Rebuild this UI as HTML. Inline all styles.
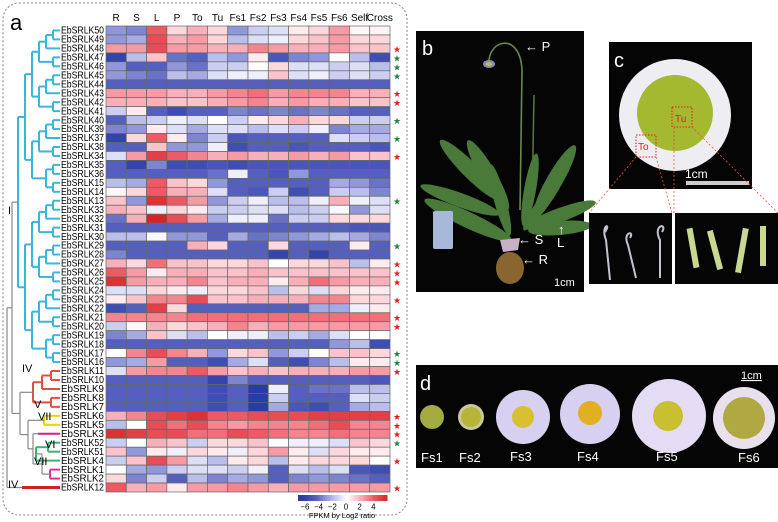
<!DOCTYPE html>
<html><head><meta charset="utf-8"><style>
html,body{margin:0;padding:0;background:#fff;}
svg{display:block;font-family:"Liberation Sans",Arial,sans-serif;}
</style></head><body>
<svg id="fig" width="778" height="522" viewBox="0 0 778 522" xmlns="http://www.w3.org/2000/svg">
<rect x="3" y="3" width="404" height="512" rx="16" fill="none" stroke="#888" stroke-dasharray="2,2"/>
<text x="10" y="30" font-size="22">a</text>
<g id="heat"></g>
<g id="tree"></g>
<g id="legend"></g>

<!-- panel b -->
<g>
<rect x="416" y="31" width="168" height="261" fill="#050505"/>
<text x="422" y="55" font-size="20" fill="#fff">b</text>
<path d="M489,66 C486,40 520,30 522,70 L520,210" stroke="#6a8a4a" stroke-width="1.6" fill="none"/>
<ellipse cx="489" cy="64" rx="6" ry="4" fill="#8a8ab8"/>
<ellipse cx="489" cy="64" rx="3" ry="2" fill="#b8c050"/>
<path d="M534,95 L532,205" stroke="#5a7a40" stroke-width="1.5"/>
<g fill="#4a7a3a">
<ellipse cx="470" cy="170" rx="42" ry="8" transform="rotate(45 470 170)"/>
<ellipse cx="488" cy="175" rx="40" ry="8" transform="rotate(60 488 175)"/>
<ellipse cx="555" cy="180" rx="40" ry="8" transform="rotate(-60 555 180)"/>
<ellipse cx="560" cy="215" rx="38" ry="7" transform="rotate(-20 560 215)"/>
<ellipse cx="560" cy="228" rx="32" ry="7" transform="rotate(-5 560 228)"/>
<ellipse cx="468" cy="220" rx="48" ry="8" transform="rotate(25 468 220)"/>
<ellipse cx="460" cy="200" rx="42" ry="7" transform="rotate(20 460 200)"/>
<ellipse cx="500" cy="200" rx="37" ry="6" transform="rotate(75 500 200)"/>
<ellipse cx="530" cy="190" rx="37" ry="6" transform="rotate(-80 530 190)"/>
<ellipse cx="545" cy="200" rx="37" ry="6" transform="rotate(-55 545 200)"/>
</g>
<path d="M500,240 L520,238 L518,250 L503,252Z" fill="#c8b0c8"/>
<ellipse cx="510" cy="268" rx="14" ry="16" fill="#8a6530"/>
<rect x="433" y="211" width="20" height="38" rx="2" fill="#a8b8d8"/>
<g fill="#fff" font-size="13">
<text x="525" y="51">← P</text><text x="518" y="244">← S</text><text x="522" y="264">← R</text>
<text x="558" y="234">↑</text><text x="557" y="247">L</text>
<text x="554" y="286" font-size="11">1cm</text></g>
</g>

<!-- panel c -->
<g>
<rect x="609" y="42" width="143" height="147" fill="#050505"/>
<circle cx="675" cy="115" r="56" fill="#eeeef2"/>
<circle cx="675" cy="113" r="38" fill="#a4b830"/>
<text x="614" y="67" font-size="20" fill="#fff">c</text>
<rect x="672" y="107" width="20" height="20" fill="none" stroke="#e02020" stroke-dasharray="1.5,1.5"/>
<text x="675" y="122" font-size="10" fill="#e02020">Tu</text>
<rect x="636" y="135" width="20" height="22" fill="none" stroke="#e02020" stroke-dasharray="1.5,1.5"/>
<text x="638" y="150" font-size="10" fill="#e02020">To</text>
<text x="685" y="178" font-size="12" fill="#fff">1cm</text>
<rect x="686" y="181" width="63" height="4" fill="#ccc"/>
<g stroke="#e05a30" stroke-dasharray="2,2" stroke-width="0.8">
<line x1="636" y1="157" x2="589" y2="213"/><line x1="656" y1="157" x2="672" y2="213"/>
<line x1="674" y1="127" x2="674" y2="213"/><line x1="692" y1="127" x2="778" y2="213"/></g>
<rect x="589" y="213" width="83" height="71" fill="#050505"/>
<rect x="675" y="213" width="103" height="71" fill="#050505"/>
<g stroke="#c0c4d0" stroke-width="2" fill="none">
<path d="M610,280 L606,240 C600,225 612,222 605,232"/><path d="M636,278 L628,245 C622,232 635,230 630,238"/><path d="M660,278 L660,240 C652,225 668,222 662,232"/></g>
<g fill="#c8d890"><rect x="690" y="228" width="6" height="40" transform="rotate(-10 693 248)"/><rect x="712" y="230" width="6" height="40" transform="rotate(-15 715 250)"/><rect x="739" y="228" width="6" height="45" transform="rotate(10 742 250)"/><rect x="760" y="226" width="6" height="40"/></g>
</g>

<!-- panel d -->
<g>
<rect x="416" y="365" width="362" height="103" fill="#050505"/>
<text x="420" y="390" font-size="20" fill="#fff">d</text>
<text x="741" y="379" font-size="11" fill="#fff" text-decoration="underline">1cm</text>
<circle cx="432" cy="417" r="12" fill="#a4ac40"/>
<circle cx="471" cy="417" r="13" fill="#c8c8a0"/><circle cx="471" cy="417" r="10" fill="#b8b438"/>
<circle cx="523" cy="417" r="27" fill="#d8d0f0"/><circle cx="523" cy="417" r="11" fill="#d8c030"/>
<circle cx="590" cy="414" r="30" fill="#d8d0f0"/><circle cx="590" cy="413" r="12" fill="#e0b020"/>
<circle cx="669" cy="416" r="37" fill="#e4dcf4"/><circle cx="668" cy="416" r="15" fill="#c8c030"/>
<circle cx="744" cy="418" r="31" fill="#e8e0ec"/><circle cx="744" cy="418" r="21" fill="#b0a840"/>
<g fill="#fff" font-size="13"><text x="421" y="462">Fs1</text><text x="459" y="462">Fs2</text><text x="510" y="461">Fs3</text><text x="577" y="461">Fs4</text><text x="656" y="461">Fs5</text><text x="738" y="462">Fs6</text></g>
</g>
</svg>
<script>
const columns=["R","S","L","P","To","Tu","Fs1","Fs2","Fs3","Fs4","Fs5","Fs6","Self","Cross"];
const genes=["EbSRLK50","EbSRLK49","EbSRLK48","EbSRLK47","EbSRLK46","EbSRLK45","EbSRLK44","EbSRLK43","EbSRLK42","EbSRLK41","EbSRLK40","EbSRLK39","EbSRLK37","EbSRLK38","EbSRLK34","EbSRLK35","EbSRLK36","EbSRLK15","EbSRLK14","EbSRLK13","EbSRLK33","EbSRLK32","EbSRLK31","EbSRLK30","EbSRLK29","EbSRLK28","EbSRLK27","EbSRLK26","EbSRLK25","EbSRLK24","EbSRLK23","EbSRLK22","EbSRLK21","EbSRLK20","EbSRLK19","EbSRLK18","EbSRLK17","EbSRLK16","EbSRLK11","EbSRLK10","EbSRLK9","EbSRLK8","EbSRLK7","EbSRLK6","EbSRLK5","EbSRLK3","EbSRLK52","EbSRLK51","EbSRLK4","EbSRLK1","EbSRLK2","EbSRLK12"];
const values=[
[-3,-3.5,4,1,2,1,-3,-1.5,-1,0.5,1,2.5,0.2,0.3],
[-3,-2.5,4.5,2,2.5,1,-2,-1,-0.5,1,1.5,2.5,1,1],
[2.5,2.5,4.5,2.5,2.5,2,2,3,2.5,2,2,2.5,1.5,1.5],
[-6,-2,1.5,-4,-4.5,-2,-3,0.5,-5,-3.5,-3,0,-2,-5.5],
[-3,-4.5,-4.5,-3,-4,-1.5,-1.5,0,1,-1,-1,-1.5,-1,-2],
[-3,-3.5,-4,-2,-2.5,-1,-0.5,-0.5,1.5,-1,-0.5,-1.5,-1,-1.5],
[-4.5,-4.5,-4.5,-4.5,-4.5,-4.5,-4.5,-4.5,-4.5,-4.5,-4.5,-4.5,-4.5,-4.5],
[2.5,2.5,2.5,2,2,2.5,3,3.5,2.5,3,3,3,2,2],
[2,2,2,1.5,1.5,2,2.5,3,2,2.5,2,2,1.5,1.5],
[-1.5,0.5,-4.5,-5.5,-4.5,-4.5,-3.5,-4,-3.5,-4,-3.5,-4,-4.5,-4.5],
[-4.5,-2,-1.5,-0.5,-1,0,-1.5,0.5,1,2,1,1,-1.5,-1.5],
[-3.5,-3,0.5,-1,-2.5,-1,-1,-2,-1,-1.5,-0.5,-3.5,-2.5,-2.5],
[-6,1,4,0.5,-3.5,-1.5,-5,-4.5,-4.5,-4.5,-4.5,-1,-1.5,-2],
[-4.5,-4.5,1.5,-3,-3,-0.5,-5.5,-4.5,-4.5,-5,-4.5,-4.5,-4.5,-5],
[-1,2.5,5,4,3,2,2.5,2,2,2.5,2,2.5,1.5,1.5],
[-4.5,-6,-3.5,-5.5,-5.5,-5,-5.5,-5,-5,-5,-5,-5,-5,-5],
[-4.5,-4.5,-4.5,-4.5,-4.5,-4,-0.5,-4.5,-5,-3,-4.5,-4.5,-4.5,-4.5],
[-2,-2.5,4,1.5,1,-3,-4.5,-4.5,-4.5,-4.5,-4.5,-2.5,-3,-4],
[0.2,1,4,2,2,-1,-4.5,-5,-1.5,-5.5,-4.5,-1.5,-2,-3.5],
[1.5,-3,5.5,4,2.5,-3,-1.5,-0.5,-2,-2,-0.5,2,-0.5,-1],
[2,1.5,-0.5,1,0.5,-1.5,-1.5,-1,-1,-2,-1.5,-0.2,-3,-1],
[-4,2,6,4.5,2.5,-2.5,-0.5,-0.5,-4,-1.5,-1.5,1,1,1],
[-4.5,-4.5,-4.5,-4.5,-4.5,-4.5,-4.5,-4.5,-4.5,-4.5,-4.5,-4.5,-5,-5],
[-2,-2,-0.2,-3,-3,-4.5,-2.5,-4,-3.5,-3,-2.5,-2,-2.5,-3.5],
[-4.5,-4.5,-4.5,-4.5,2,1,-4.5,-4.5,1,-4.5,-4.5,-4.5,0.5,-4.5],
[-3.5,-4.5,-4.5,-4.5,-4.5,-4.5,-4.5,-4.5,-6,-4.5,-6,-4.5,-4.5,-4.5],
[2,1,3.5,1.5,1.5,1,1,1.5,0,1,1,1.5,-2,0.5],
[4,2.5,0.5,2,2,1.5,1.5,2,1.5,1.5,1.5,1.5,1.5,1.5],
[5.5,2.5,2,2,3,1.5,2,2,0.5,2,3.5,2.5,2,2],
[-1,-1,1,0.5,-0.5,1,1,1.5,-2,1,-1,1,0.5,0.5],
[0.5,1.5,3,3,4.5,1.5,1.5,2,2,2,3,3,1,1],
[-5.5,-4.5,5,1,-4.5,-4.5,-4.5,-4.5,-4.5,-4.5,-2.5,-2.5,-0.5,0.5],
[3,3,3,3,3.5,3.5,3.5,3.5,3.5,3.5,3.5,3.5,3.5,3.5],
[-1.5,0.2,2,1,1.5,2,3,2,2.5,2.5,2.5,2.5,2.5,2.5],
[-3.5,-2.5,1.5,-1,-2,0,-0.5,-0.5,-2,-1.5,-2.5,-1,0,0],
[-4.5,-4.5,-4.5,-4.5,-4.5,-4.5,-4.5,-4.5,-4.5,-4.5,-4.5,-3,-2,-5.5],
[0,3,4.5,3,2,-3,1,1.5,-3,-1.5,0,1.5,1.5,1],
[-3,-2.5,2.5,-4.5,-4.5,-5.5,-2.5,-1,-4.5,-5.5,-3.5,-2,0.5,0.5],
[-1,2.5,3,3,4,2.5,1.5,2,1.5,2,2,2,2.5,2.5],
[-4.5,-4.5,-4.5,-4.5,-4.5,-6,-3.5,-4.5,-4.5,-4.5,-4.5,-4.5,-4.5,-5],
[-4.5,-4.5,-4.5,-4.5,-4.5,-5.5,-4.5,-6.5,-0.5,-4.5,-4,-4,-2,-2],
[-4.5,-4.5,-4.5,-4.5,-4.5,-5.5,-4.5,-6.5,-1.5,-4.5,-4.5,-4.5,-1,-1.5],
[-4.5,-4.5,-4.5,-4.5,-4.5,-5.5,-4.5,-6.5,-2.5,-5,-5.5,-4.5,-2.5,-2],
[2,3,4.5,5,5.5,4,4,4.5,4.5,4.5,5,5,5,5],
[-2,0,4.5,3.5,4.5,3,2.5,3,3,3,3.5,4.5,3,3],
[5.5,5,4.5,4.5,3.5,3.5,4.5,4,3.5,3,3,3.5,3,3],
[-1.5,0,2,1.5,-1.5,1,1,1.5,0,-0.5,-0.5,-1,1.5,1],
[1.5,-3,0.5,-0.5,1,0.5,-0.5,1,2.5,0.5,-1,1,0.5,0.5],
[-1.5,1.5,4.5,2.5,-1,-2,0.5,1,-2,0.5,1,1,1,0],
[0,-2.5,-3,-1.5,-1,-1,-1.5,-0.5,-4.5,-1,-2,-1,-5,-5.5],
[1,-3.5,-1.5,-4.5,-2,-3.5,-2.5,-3,-4.5,-3.5,-3,-3.5,-4,-4.5],
[4,2,2.5,0.5,2.5,2.5,3,2.5,2,2.5,2.5,2.5,2.5,2.5]];
const stars=["","","r","g","g","g","","r","r","","g","","g","","r","","","","","g","","","","","g","","r","r","r","","r","","r","r","","","g","g","r","","","","","r","r","r","g","","r","","","r"];
const legendTicks=[-6,-4,-2,0,2,4];

const NS="http://www.w3.org/2000/svg";
function mk(tag,attrs,parent){const e=document.createElementNS(NS,tag);for(const k in attrs)e.setAttribute(k,attrs[k]);parent.appendChild(e);return e;}
const X0=106,X1=390,Y0=26,Y1=492;
const cw=(X1-X0)/columns.length, rh=(Y1-Y0)/genes.length;
const xPos=i=>X0+i*cw, yPos=r=>Y0+r*rh;
const stops=[[-6.5,[40,60,165]],[-4.5,[85,95,190]],[-2,[185,190,235]],[0,[255,255,255]],[2,[248,175,185]],[4,[238,90,100]],[6,[215,35,35]]];
function color(v){for(let i=0;i<stops.length-1;i++){const a=stops[i],b=stops[i+1];if(v<=b[0]){const t=Math.max(0,(v-a[0])/(b[0]-a[0]));const c=a[1].map((x,j)=>Math.round(x+(b[1][j]-x)*t));return `rgb(${c})`;}}return "rgb(215,35,35)";}
const heat=document.getElementById('heat');
columns.forEach((c,i)=>{const t=mk('text',{x:xPos(i)+cw/2,y:21,'font-size':10,'text-anchor':'middle'},heat);t.textContent=c;

});
values.forEach((row,r)=>{
  const lab=mk('text',{x:104,y:yPos(r)+rh-1.3,'font-size':10.5,'text-anchor':'end',textLength:43,lengthAdjust:'spacingAndGlyphs'},heat);lab.textContent=genes[r];
  
  
  row.forEach((v,i)=>{const cell=mk('rect',{x:xPos(i),y:yPos(r),width:cw,height:rh,fill:color(v),stroke:'#666','stroke-width':0.7},heat);
  
  });
  if(stars[r]){const s=mk('text',{x:393,y:yPos(r)+rh-0.5,'font-size':9,fill:stars[r]=='r'?'#e02020':'#208040'},heat);s.textContent='★';
  
  }
});
// dendrogram
const tree=document.getElementById('tree');
function line(x1,y1,x2,y2,col,w){const l=mk('line',{x1,y1,x2,y2,stroke:col,'stroke-width':w||2},tree);

}
const mid=r=>yPos(r)+rh/2;
function build(lo,hi,col,tip,step){
  if(lo===hi){return [tip,mid(lo)];}
  const m=Math.floor((lo+hi)/2);
  const a=build(lo,m,col,tip,step),b=build(m+1,hi,col,tip,step);
  const x=Math.min(a[0],b[0])-step;
  line(x,a[1],a[0],a[1],col);line(x,b[1],b[0],b[1],col);line(x,a[1],x,b[1],col,2);
  return [x,(a[1]+b[1])/2];
}
const cy=build(0,37,'#3ab5dc',60,7);
const red=build(38,42,'#e05040',60,9);
const yel=build(43,44,'#f0d000',60,16);
line(38,mid(45),60,mid(45),'#d02090');
const grn=build(46,48,'#40b070',60,12);
const pnk=build(49,50,'#e030a0',60,10);
const g='#888';
line(22,mid(51),60,mid(51),'#d02020',3);
const s1=[42,(mid(49)+mid(50))/2];line(s1[0],grn[1],grn[0],grn[1],g,1.2);line(s1[0],pnk[1],pnk[0],pnk[1],g,1.2);line(s1[0],grn[1],s1[0],pnk[1],g,1.2);
const yJ=(grn[1]+pnk[1])/2;
line(33,yJ,42,yJ,g,1.2);line(33,mid(45),38,mid(45),g,1.2);line(33,mid(45),33,yJ,g,1.2);
const y2=(mid(45)+yJ)/2;line(28,y2,33,y2,g,1.2);line(28,yel[1],yel[0],yel[1],g,1.2);line(28,yel[1],28,y2,g,1.2);
const y3=(yel[1]+y2)/2;line(20,y3,28,y3,g,1.2);line(20,red[1],red[0],red[1],g,1.2);line(20,red[1],20,y3,g,1.2);
const y4=(red[1]+y3)/2;line(12,y4,20,y4,g,1.2);line(12,cy[1],cy[0],cy[1],g,1.2);line(12,cy[1],12,y4,g,1.2);
const y5=(cy[1]+y4)/2;line(7,y5,12,y5,g,1.2);line(7,mid(51),22,mid(51),g,1.2);line(7,y5,7,mid(51),g,1.2);
[['I',8,214],['IV',22,372],['V',34,408],['VII',38,420],['VI',45,448],['VII',34,465],['IV',8,488]].forEach(d=>{const t=mk('text',{x:d[1],y:d[2],'font-size':11},tree);t.textContent=d[0];

});
// legend
const lg=document.getElementById('legend');
const LX0=298,LX1=387,lv=v=>LX0+(v+7)/(6+7)*(LX1-LX0);
for(let v=-7;v<6;v+=0.25){const r=mk('rect',{x:lv(v),y:495,width:(LX1-LX0)/52+0.5,height:6,fill:color(v)},lg);

}
legendTicks.forEach(v=>{const t=mk('text',{x:lv(v),y:509.5,'font-size':8,'text-anchor':'middle'},lg);t.textContent=(v<0?'−':'')+Math.abs(v);

});
const lt=mk('text',{x:342,y:518,'font-size':7.5,'text-anchor':'middle'},lg);lt.textContent='FPKM by Log2 ratio';


</script>
</body></html>
